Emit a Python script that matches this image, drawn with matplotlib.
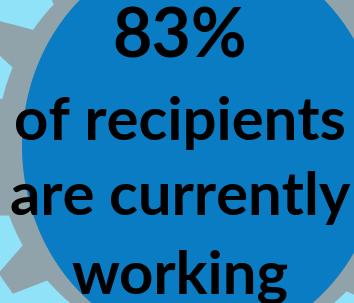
import numpy as np
import matplotlib.pyplot as plt
from matplotlib.patches import Polygon, Ellipse

# chart content
big_value = "83%"
text_lines = ["of recipients", "are currently", "working"]

# colours
bg_col = "#8fe2f8"
gear_col = "#91a3aa"
blue_col = "#0a7cc4"

W, H = 354, 303
fig = plt.figure(figsize=(W / 100, H / 100), dpi=100)
ax = fig.add_axes([0, 0, 1, 1])
ax.set_xlim(0, W)
ax.set_ylim(H, 0)
ax.axis('off')
fig.patch.set_facecolor(bg_col)

# gear outline
cx, cy = 202, 146
n_teeth = 17
r_root, r_tip = 205, 240
first = 145.0
step = 360.0 / n_teeth
pts = []
for k in range(n_teeth):
    c = first + k * step
    for a, r in [(c - 6, r_root), (c - 3, r_tip), (c + 3, r_tip), (c + 6, r_root)]:
        pts.append((cx + r * np.cos(np.radians(a)), cy + r * np.sin(np.radians(a))))
    # root arc to the next tooth
    for a in np.linspace(c + 6, c + step - 6, 6)[1:-1]:
        pts.append((cx + r_root * np.cos(np.radians(a)), cy + r_root * np.sin(np.radians(a))))
ax.add_patch(Polygon(pts, closed=True, fc=gear_col, ec='none'))

ax.add_patch(Ellipse((cx, cy), 360, 398, fc=blue_col, ec='none'))

fnt = dict(family='Lato', weight='bold', color='black', ha='center', va='baseline')
ax.text(180, 58, big_value, fontsize=49, **fnt)
for txt, y in zip(text_lines, [140, 215, 294]):
    ax.text(180, y, txt, fontsize=43, **fnt)

fig.savefig('out.png', dpi=100, facecolor=bg_col)
